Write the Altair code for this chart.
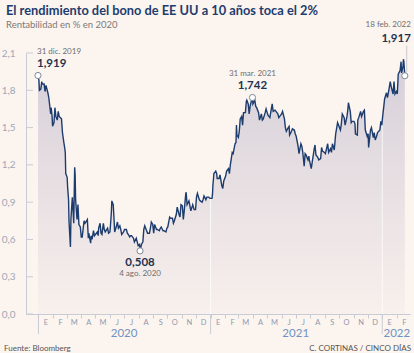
import altair as alt
import pandas as pd

# ---------------- data ----------------
fechas_2019 = ["12-31"]
rend_2019 = [1.919]

fechas_2020 = [
    "01-02", "01-03", "01-06", "01-08", "01-09", "01-13", "01-15", "01-17", "01-21", "01-23", "01-27", "01-28", "01-30", "01-31",
    "02-03", "02-05", "02-07", "02-10", "02-12", "02-14", "02-19", "02-21", "02-24", "02-26", "02-27", "02-28",
    "03-02", "03-03", "03-05", "03-06", "03-09", "03-10", "03-12", "03-13", "03-16", "03-18", "03-19", "03-20", "03-23", "03-25", "03-27", "03-30",
    "04-01", "04-03", "04-07", "04-09", "04-14", "04-16", "04-17", "04-21", "04-22", "04-24", "04-27", "04-29",
    "05-01", "05-05", "05-07", "05-08", "05-11", "05-13", "05-15", "05-18", "05-20", "05-22", "05-27", "05-29",
    "06-01", "06-03", "06-04", "06-05", "06-08", "06-10", "06-11", "06-15", "06-17", "06-19", "06-22", "06-24", "06-26", "06-30",
    "07-02", "07-06", "07-08", "07-10", "07-13", "07-15", "07-17", "07-21", "07-23", "07-27", "07-29", "07-31",
    "08-03", "08-04", "08-06", "08-07", "08-10", "08-12", "08-14", "08-18", "08-20", "08-24", "08-26", "08-28", "08-31",
    "09-02", "09-04", "09-08", "09-10", "09-14", "09-16", "09-18", "09-22", "09-24", "09-28", "09-30",
    "10-02", "10-06", "10-08", "10-12", "10-14", "10-16", "10-20", "10-22", "10-26", "10-28", "10-30",
    "11-02", "11-04", "11-06", "11-09", "11-10", "11-12", "11-16", "11-18", "11-20", "11-24", "11-27", "11-30",
    "12-02", "12-04", "12-08", "12-10", "12-14", "12-16", "12-18", "12-22", "12-24", "12-28", "12-31",
]
rend_2020 = [
    1.88, 1.80, 1.81, 1.87, 1.85, 1.85, 1.79, 1.84, 1.78, 1.74, 1.61, 1.66, 1.59, 1.51,
    1.54, 1.66, 1.59, 1.56, 1.63, 1.59, 1.57, 1.46, 1.38, 1.33, 1.30, 1.13,
    1.10, 1.02, 0.92, 0.74, 0.54, 0.76, 0.88, 0.94, 0.73, 1.18, 1.12, 0.92, 0.76, 0.88, 0.72, 0.70,
    0.62, 0.62, 0.75, 0.73, 0.76, 0.61, 0.65, 0.57, 0.63, 0.60, 0.67, 0.63,
    0.64, 0.66, 0.63, 0.69, 0.73, 0.65, 0.64, 0.73, 0.68, 0.66, 0.69, 0.65,
    0.66, 0.76, 0.82, 0.91, 0.88, 0.74, 0.66, 0.71, 0.74, 0.69, 0.71, 0.68, 0.64, 0.66,
    0.68, 0.68, 0.65, 0.64, 0.62, 0.63, 0.63, 0.61, 0.58, 0.61, 0.58, 0.55,
    0.56, 0.508, 0.54, 0.56, 0.58, 0.68, 0.71, 0.67, 0.65, 0.65, 0.69, 0.74, 0.72,
    0.65, 0.72, 0.68, 0.68, 0.67, 0.69, 0.70, 0.67, 0.67, 0.66, 0.69,
    0.70, 0.78, 0.77, 0.77, 0.73, 0.75, 0.80, 0.86, 0.80, 0.78, 0.88,
    0.87, 0.76, 0.83, 0.96, 0.98, 0.88, 0.91, 0.87, 0.83, 0.88, 0.84, 0.84,
    0.94, 0.97, 0.92, 0.91, 0.90, 0.92, 0.95, 0.92, 0.94, 0.94, 0.93,
]

fechas_2021 = [
    "01-04", "01-05", "01-06", "01-07", "01-08", "01-12", "01-14", "01-15", "01-19", "01-21", "01-25", "01-27", "01-29",
    "02-02", "02-04", "02-08", "02-10", "02-12", "02-16", "02-18", "02-22", "02-24", "02-25", "02-26",
    "03-01", "03-03", "03-05", "03-08", "03-10", "03-12", "03-16", "03-18", "03-19", "03-22", "03-24", "03-26", "03-29", "03-31",
    "04-01", "04-05", "04-07", "04-09", "04-13", "04-15", "04-19", "04-21", "04-23", "04-27", "04-29",
    "05-03", "05-05", "05-07", "05-12", "05-14", "05-18", "05-20", "05-24", "05-26", "05-28",
    "06-01", "06-03", "06-07", "06-09", "06-11", "06-15", "06-17", "06-18", "06-22", "06-24", "06-28", "06-30",
    "07-02", "07-06", "07-08", "07-12", "07-14", "07-16", "07-19", "07-21", "07-23", "07-27", "07-29", "07-30",
    "08-03", "08-05", "08-09", "08-11", "08-13", "08-17", "08-19", "08-23", "08-25", "08-27", "08-31",
    "09-02", "09-07", "09-09", "09-13", "09-15", "09-17", "09-21", "09-23", "09-24", "09-28", "09-30",
    "10-04", "10-06", "10-08", "10-12", "10-14", "10-18", "10-20", "10-21", "10-25", "10-27", "10-29",
    "11-02", "11-04", "11-05", "11-09", "11-10", "11-12", "11-16", "11-18", "11-22", "11-24", "11-26", "11-30",
    "12-02", "12-03", "12-07", "12-09", "12-13", "12-15", "12-17", "12-20", "12-22", "12-27", "12-29", "12-31",
]
rend_2021 = [
    0.93, 0.96, 1.04, 1.08, 1.13, 1.15, 1.13, 1.09, 1.09, 1.12, 1.03, 1.01, 1.07,
    1.11, 1.15, 1.17, 1.13, 1.20, 1.30, 1.29, 1.37, 1.38, 1.52, 1.44,
    1.42, 1.47, 1.57, 1.59, 1.52, 1.62, 1.62, 1.71, 1.72, 1.69, 1.61, 1.67, 1.72, 1.742,
    1.69, 1.72, 1.67, 1.66, 1.62, 1.56, 1.61, 1.56, 1.57, 1.62, 1.65,
    1.60, 1.59, 1.58, 1.69, 1.63, 1.64, 1.63, 1.61, 1.58, 1.59,
    1.61, 1.63, 1.57, 1.50, 1.47, 1.50, 1.51, 1.44, 1.47, 1.49, 1.48, 1.45,
    1.43, 1.35, 1.29, 1.37, 1.35, 1.30, 1.19, 1.29, 1.28, 1.24, 1.27, 1.24,
    1.17, 1.22, 1.32, 1.36, 1.28, 1.26, 1.24, 1.25, 1.34, 1.31, 1.30,
    1.29, 1.37, 1.30, 1.33, 1.30, 1.37, 1.32, 1.41, 1.45, 1.54, 1.52,
    1.48, 1.53, 1.61, 1.58, 1.52, 1.59, 1.65, 1.70, 1.63, 1.54, 1.55,
    1.55, 1.53, 1.45, 1.44, 1.56, 1.58, 1.63, 1.59, 1.63, 1.64, 1.48, 1.43,
    1.45, 1.34, 1.48, 1.50, 1.42, 1.46, 1.40, 1.43, 1.46, 1.48, 1.55, 1.52,
]

fechas_2022 = [
    "01-03", "01-04", "01-06", "01-10", "01-12", "01-14", "01-18", "01-20", "01-24", "01-26", "01-28", "01-31",
    "02-02", "02-04", "02-08", "02-10", "02-11", "02-14", "02-15", "02-16", "02-17", "02-18",
]
rend_2022 = [
    1.63, 1.66, 1.73, 1.78, 1.74, 1.78, 1.87, 1.83, 1.77, 1.87, 1.77, 1.79,
    1.77, 1.93, 1.96, 2.03, 1.94, 1.99, 2.05, 2.03, 1.97, 1.917,
]

# annotations
anot_fechas = ["2019-12-31", "2020-08-04", "2021-03-31", "2022-02-18"]
anot_valores = [1.919, 0.508, 1.742, 1.917]
anot_textos = ["31 dic. 2019", "4 ago. 2020", "31 mar. 2021", "18 feb. 2022"]

# axes text
ticks_y = [0.0, 0.3, 0.6, 0.9, 1.2, 1.5, 1.8, 2.1]
meses = ["E", "F", "M", "A", "M", "J", "J", "A", "S", "O", "N", "D"]
anios = ["2020", "2021", "2022"]
anios_pos = ["2020-07-01", "2021-07-01", "2022-02-01"]
separadores = ["2021-01-01", "2022-01-01"]
separadores_tope = [0.93, 1.52]
inicios_anio = ["2020-01-01", "2021-01-01", "2022-01-01"]

titulo = "El rendimiento del bono de EE UU a 10 años toca el 2%"
subtitulo = "Rentabilidad en % en 2020"
fuente = "Fuente: Bloomberg"
autor = "C. CORTINAS / CINCO DÍAS"

# ---------------- build tables ----------------
rows = []
for year, fs, vs in [("2019", fechas_2019, rend_2019), ("2020", fechas_2020, rend_2020),
                     ("2021", fechas_2021, rend_2021), ("2022", fechas_2022, rend_2022)]:
    assert len(fs) == len(vs), year
    for f, v in zip(fs, vs):
        rows.append({"fecha": f"{year}-{f}", "valor": v})
df = pd.DataFrame(rows)

FONT = "Lato"
W, H = 384, 261
AXC = "#c9ccd5"

xscale = alt.Scale(type="utc", domain=[
    alt.DateTime(year=2019, month=12, date=5, hours=12, utc=True),
    alt.DateTime(year=2022, month=3, date=1, utc=True)])
yscale = alt.Scale(domain=[0, 2.1], nice=False, zero=True)

month_vals = []
for y in (2020, 2021, 2022):
    for m in range(1, 13):
        if y == 2022 and m > 2:
            break
        month_vals.append(alt.DateTime(year=y, month=m, date=1, utc=True))

meses_js = "[" + ",".join(f"'{m}'" for m in meses) + "]"

x_axis = alt.Axis(values=month_vals, labelExpr=f"{meses_js}[utcmonth(datum.value)]",
                  tickSize=4, tickColor=AXC, domainColor=AXC, domainWidth=1,
                  labelOffset=7, labelFontSize=7.5, labelColor="#8e9ab0", labelFont=FONT,
                  labelPadding=0, labelAlign="center", labelFlush=False, labelOverlap=False,
                  grid=False, title=None)
y_axis = alt.Axis(values=ticks_y, labelExpr="replace(format(datum.value, '.1f'), '.', ',')",
                  tickSize=0, domainColor=AXC, labelColor="#a0a8b8", labelFontSize=10,
                  labelFont=FONT, labelPadding=11, grid=False, title=None)

X = alt.X("fecha:T", scale=xscale, axis=x_axis)
Y = alt.Y("valor:Q", scale=yscale, axis=y_axis)

gradient = alt.Gradient(gradient="linear",
                        stops=[alt.GradientStop(color="#f8f0ec", offset=0),
                               alt.GradientStop(color="#d6cfd9", offset=1)],
                        x1=1, x2=1, y1=1, y2=0)

area = alt.Chart(df).mark_area(color=gradient).encode(x=X, y=Y)

sep_df = pd.DataFrame({"fecha": separadores, "valor": separadores_tope, "base": [0.0] * len(separadores)})
sep = alt.Chart(sep_df).mark_rule(color="#ffffff", opacity=0.75, strokeWidth=1).encode(
    x=X, y=Y, y2="base:Q")

ini_df = pd.DataFrame({"fecha": inicios_anio})
long_ticks = alt.Chart(ini_df).mark_rule(color=AXC, strokeWidth=1).encode(
    x=X, y=alt.value(H), y2=alt.value(H + 20))

line = alt.Chart(df).mark_line(color="#1d3c6e", strokeWidth=1.4).encode(x=X, y=Y)

tick_df = pd.DataFrame({"valor": ticks_y})
yticks = alt.Chart(tick_df).mark_rule(color=AXC).encode(
    y=Y, x=alt.value(0), x2=alt.value(7))

yr_df = pd.DataFrame({"fecha": anios_pos, "t": anios})
years = alt.Chart(yr_df).mark_text(font=FONT, fontSize=11.5, color="#6e93c3", baseline="middle").encode(
    x=X, y=alt.value(H + 20), text="t:N")

an_df = pd.DataFrame({"fecha": anot_fechas, "valor": anot_valores, "fecha_txt": anot_textos})
an_df["valor_txt"] = an_df["valor"].map(lambda v: f"{v:.3f}".replace(".", ","))

lead = alt.Chart(pd.DataFrame({"fecha": ["2022-02-22"], "valor": [1.95], "v2": [2.16]})).mark_rule(
    color="#c9c9d0", strokeWidth=1).encode(x=X, y=Y, y2="v2:Q")

points = alt.Chart(an_df).mark_point(filled=True, fill="#ffffff", stroke="#7e8898", strokeWidth=1,
                                     size=38, opacity=1).encode(x=X, y=Y)

# offsets per annotation: (align, dx, dy_value, dy_date)
offs = [("left", -1, -11, -23), ("center", 0, 12, 23), ("center", 0, -11, -23), ("right", 6, -37, -51)]
texts = []
for i, (al, dx, dyv, dyd) in enumerate(offs):
    sub = an_df.iloc[[i]]
    texts.append(alt.Chart(sub).mark_text(font=FONT, fontSize=11.5, fontWeight="bold", color="#22324f",
                                          align=al, baseline="middle", dx=dx, dy=dyv).encode(
        x=X, y=Y, text="valor_txt:N"))
    texts.append(alt.Chart(sub).mark_text(font=FONT, fontSize=8, color="#6f6f6f",
                                          align=al, baseline="middle", dx=dx, dy=dyd).encode(
        x=X, y=Y, text="fecha_txt:N"))

def fixed_text(t, xpx, ypx, **kw):
    return alt.Chart(pd.DataFrame({"t": [t]})).mark_text(font=FONT, baseline="alphabetic", **kw).encode(
        text="t:N", x=alt.value(xpx), y=alt.value(ypx))

title_t = fixed_text(titulo, -20, 14.5 - 53, fontSize=12.8, fontWeight="bold", color="#1c3d6e", align="left")
subt_t = fixed_text(subtitulo, -20, 28 - 53, fontSize=9.5, color="#7a7a7a", align="left")
foot_l = fixed_text(fuente, -22, H + 37, fontSize=8, color="#555555", align="left")
foot_r = fixed_text(autor, W + 1, H + 37, fontSize=8, color="#555555", align="right")

chart = alt.layer(area, sep, long_ticks, yticks, line, lead, points, *texts, years,
                  title_t, subt_t, foot_l, foot_r).properties(
    width=W, height=H,
    autosize=alt.AutoSizeParams(type="none"),
    padding={"left": 26, "top": 53, "right": 4, "bottom": 39},
    background="#fcf4ee",
).configure_view(stroke=None)

chart.save("out.html", embed_options={"renderer": "svg", "actions": False})
